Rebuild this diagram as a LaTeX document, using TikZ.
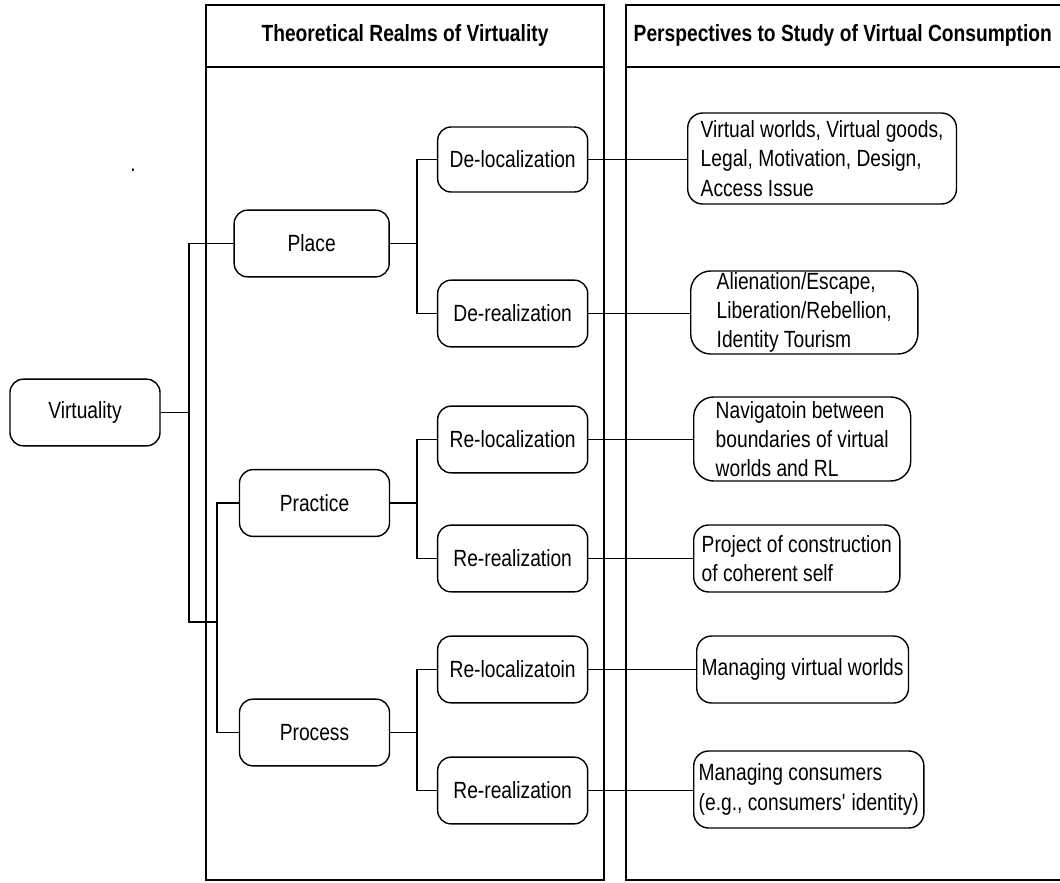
\documentclass[tikz,border=0pt]{standalone}
\usepackage{fontspec}
\setmainfont{Liberation Sans}[FakeStretch=0.82]
\usepackage{tikz}

\begin{document}
\begin{tikzpicture}[line width=1.2pt,
    every node/.style={font=\fontsize{20}{25}\selectfont},
    head/.style={font=\fontsize{20}{25}\selectfont\bfseries, inner sep=0pt},
    realm/.style={draw, rounded corners=0.4cm, minimum width=4.5cm, minimum height=2cm, align=center},
    persp/.style={draw, rounded corners=0.45cm, anchor=west, align=left, inner ysep=0pt}]
    \useasboundingbox (0,0) rectangle (31.8,-26.46);

    % Panels
    \draw (6.18,-0.15) rectangle (18.12,-26.4);
    \draw (6.18,-2.01) -- (18.12,-2.01);
    \draw (32,-0.15) -- (18.78,-0.15) -- (18.78,-26.4) -- (32,-26.4);
    \draw (18.78,-2.01) -- (32,-2.01);
    \node[head] (realms-head) at (12.15,-1.05) {Theoretical Realms of Virtuality};
    \node[head, anchor=west] (persp-head) at (18.99,-1.05) {Perspectives to Study of Virtual Consumption};
    \node (stray) at (3.99,-5.1) {.};

    % Realms
    \node[realm] (virt) at (2.55,-12.375) {Virtuality};
    \node[realm, minimum width=4.65cm] (place) at (9.35,-7.305) {Place};
    \node[realm] (practice) at (9.435,-15.09) {Practice};
    \node[realm] (process) at (9.435,-21.975) {Process};

    \node[realm, minimum height=1.95cm] (dloc) at (15.38,-4.785) {De-localization};
    \node[realm] (dreal) at (15.38,-9.405) {De-realization};
    \node[realm] (rloc1) at (15.38,-13.185) {Re-localization};
    \node[realm] (rreal1) at (15.38,-16.755) {Re-realization};
    \node[realm] (rloc2) at (15.38,-20.085) {Re-localizatoin};
    \node[realm] (rreal2) at (15.38,-23.715) {Re-realization};

    % Perspectives
    \node[persp, inner xsep=0.39cm, minimum height=2.73cm] (goods) at (20.61,-4.755) {Virtual worlds, Virtual goods,\\Legal, Motivation, Design,\\Access Issue};
    \node[persp, inner xsep=0.78cm, minimum height=2.49cm, rounded corners=0.6cm] (escape) at (20.7,-9.375) {Alienation/Escape,\\Liberation/Rebellion,\\Identity Tourism};
    \node[persp, inner xsep=0.66cm, minimum height=2.52cm, rounded corners=0.6cm] (navig) at (20.79,-13.17) {Navigatoin between\\boundaries of virtual\\worlds and RL};
    \node[persp, inner xsep=0.24cm, minimum height=2.01cm] (self) at (20.79,-16.755) {Project of construction\\of coherent self};
    \node[persp, inner xsep=0.15cm, minimum height=2.01cm] (worlds) at (20.88,-20.085) {Managing virtual worlds};
    \node[persp, inner xsep=0.15cm, minimum height=2.31cm] (consum) at (20.79,-23.685) {Managing consumers\\(e.g., consumers\textquotesingle{} identity)};

    % Tree
    \coordinate (bus) at (5.67,-18.66);
    \coordinate (join) at (6.51,-18.66);
    \coordinate (fork) at (12.51,0);
    \draw (virt.east) -- (virt.east -| bus);
    \draw (place.west) -| (bus) -- (join);
    \draw (practice.west) -| (join) |- (process.west);
    \foreach \up/\low/\src in {dloc/dreal/place, rloc1/rreal1/practice, rloc2/rreal2/process} {
        \draw (\src.east) -- (\src.east -| fork);
        \draw (\up.west) -| (fork |- \low.west) -- (\low.west);
    }
    \foreach \a/\b in {dloc/goods, dreal/escape, rloc1/navig, rreal1/self, rloc2/worlds, rreal2/consum}
        \draw (\a.east) -- (\a.east -| \b.west);
\end{tikzpicture}
\end{document}
